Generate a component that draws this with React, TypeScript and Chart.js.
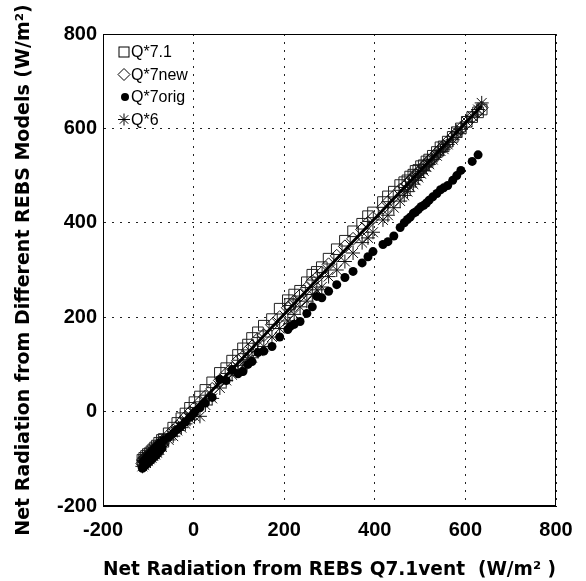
import React, { useEffect, useRef } from "react";
import { Chart, registerables } from "chart.js";

Chart.register(...registerables);

// Shared x values: Net Radiation from REBS Q7.1vent (W/m2)
const X_VENT = [
  -113, -111, -109, -107, -105, -103, -101, -99, -97, -95, -93, -91, -89, -87, -85, -83, -81, -79, -76, -73, -70, -66,
  -55, -45, -36, -27, -18, -8, 2, 14, 26, 41,
  58, 72, 85, 98, 109, 120, 129, 142, 155, 173, 190, 208, 213, 222, 235, 250, 262, 272, 283, 298, 316, 334, 352, 372, 385, 396, 418, 429, 442, 456,
  465, 472, 478, 485, 490, 496, 502, 508, 514, 520, 528, 537, 545, 552, 561, 572, 581, 590, 603, 615, 628, 636,
];

const Q71 = [
  -102, -108, -98, -104, -94, -101, -90, -98, -88, -94, -84, -91, -80, -88, -76, -84, -72, -80, -66, -72, -60, -58,
  -46, -34, -24, -14, -4, 8, 20, 32, 46, 62,
  82, 92, 108, 120, 134, 142, 156, 168, 182, 196, 218, 236, 228, 248, 256, 274, 290, 296, 306, 324, 344, 362, 382, 398, 414, 422, 444, 456, 466, 480,
  486, 490, 498, 502, 510, 512, 520, 522, 530, 534, 542, 550, 560, 562, 572, 582, 592, 600, 614, 624, 634, 640,
];

const Q7NEW = [
  -110, -102, -106, -98, -103, -96, -100, -92, -95, -88, -92, -84, -89, -80, -86, -76, -83, -74, -74, -66, -70, -60,
  -50, -40, -32, -22, -12, -2, 8, 20, 32, 48,
  66, 80, 92, 108, 116, 130, 138, 154, 162, 184, 200, 220, 222, 234, 246, 262, 276, 284, 294, 312, 330, 350, 366, 386, 400, 410, 432, 444, 456, 470,
  476, 482, 490, 494, 502, 506, 512, 520, 524, 532, 538, 548, 556, 562, 572, 582, 590, 600, 612, 624, 636, 644,
];

const Q7ORIG: (number | null)[] = [
  -120, -106, -116, -102, -112, -97, -109, -93, -105, -89, -101, -85, -97, -80, -93, -76, -89, -72, -83, -66, -77, -60,
  -54, -46, -38, -30, -22, -12, -2, 8, 18, 30,
  68, 66, 89, 80, 85, 100, 106, 125, 128, 138, 158, 174, 180, 185, 191, 208, 222, 244, 241, 255, 269, 284, 297, 315, 328, 339, 354, 360, 372, 390,
  400, 407, 412, 420, 423, 428, 434, 437, 442, 448, 455, 462, 470, 474, 479, 490, 500, 511, null, 530, 544, null,
];

const Q6 = [
  -116, -104, -113, -100, -109, -96, -105, -93, -101, -88, -98, -84, -94, -80, -91, -76, -87, -72, -81, -68, -75, -62,
  -60, -52, -40, -34, -26, -16, -10, -10, 14, 28,
  50, 66, 78, 86, 98, 110, 114, 128, 138, 158, 176, 192, 186, 206, 222, 234, 248, 258, 264, 286, 300, 318, 336, 358, 368, 380, 406, 416, 432, 446,
  458, 466, 476, 482, 490, 496, 504, 510, 518, 524, 534, 542, 552, 556, 566, 576, 592, 598, 614, 626, 640, 654,
];

const FIT_X = [-112, 636];
const FIT_Y = [-110, 648];

const AXIS_MIN = -200;
const AXIS_MAX = 800;
const AXIS_STEP = 200;

const LEGEND_LABELS = ["Q*7.1", "Q*7new", "Q*7orig", "Q*6"];
const X_TITLE = "Net Radiation from REBS Q7.1vent  (W/m\u00B2 )";
const Y_TITLE = "Net Radiation from Different REBS Models (W/m\u00B2)";

const FONT = "'Liberation Sans', Arial, Helvetica, sans-serif";
const TITLE_FONT = "'DejaVu Sans', 'Liberation Sans', Arial, sans-serif";

function toPoints(ys: (number | null)[]) {
  const out: { x: number; y: number }[] = [];
  X_VENT.forEach((x, i) => {
    const y = ys[i];
    if (y !== null && y !== undefined) out.push({ x, y });
  });
  return out;
}

function drawStar(ctx: CanvasRenderingContext2D, cx: number, cy: number, r: number) {
  ctx.beginPath();
  for (let k = 0; k < 4; k++) {
    const a = (k * Math.PI) / 4;
    ctx.moveTo(cx - Math.cos(a) * r, cy - Math.sin(a) * r);
    ctx.lineTo(cx + Math.cos(a) * r, cy + Math.sin(a) * r);
  }
  ctx.stroke();
}

const framePlugin = {
  id: "frameAndLegend",
  afterDraw(chart: any) {
    const { ctx, chartArea } = chart;
    const { left, top, right, bottom } = chartArea;
    ctx.save();
    ctx.strokeStyle = "#000";
    ctx.fillStyle = "#000";
    ctx.lineWidth = 1;
    ctx.setLineDash([]);
    ctx.strokeRect(Math.round(left) + 0.5, Math.round(top) + 0.5, Math.round(right - left) - 1, Math.round(bottom - top) - 1);

    const rowH = 22.5;
    LEGEND_LABELS.forEach((label, i) => {
      const cx = left + 21;
      const cy = top + 18 + i * rowH;
      ctx.lineWidth = 1;
      if (i === 0) {
        ctx.strokeRect(cx - 5, cy - 5, 10, 10);
      } else if (i === 1) {
        ctx.beginPath();
        ctx.moveTo(cx - 6, cy);
        ctx.lineTo(cx, cy - 6);
        ctx.lineTo(cx + 6, cy);
        ctx.lineTo(cx, cy + 6);
        ctx.closePath();
        ctx.stroke();
      } else if (i === 2) {
        ctx.beginPath();
        ctx.arc(cx + 1, cy, 4, 0, Math.PI * 2);
        ctx.fill();
      } else {
        drawStar(ctx, cx, cy, 6);
      }
      ctx.font = `16px ${FONT}`;
      ctx.textAlign = "left";
      ctx.textBaseline = "middle";
      ctx.fillText(label, left + 28, cy + 1);
    });
    ctx.restore();
  },
};

export default function App() {
  const ref = useRef<HTMLCanvasElement | null>(null);

  useEffect(() => {
    document.body.style.margin = "0";
    const canvas = ref.current;
    if (!canvas) return;

    const gridCfg = {
      color: "#222",
      lineWidth: 1,
      drawTicks: false,
    };

    const chart = new Chart(canvas, {
      type: "scatter",
      data: {
        datasets: [
          {
            label: "Q*7orig",
            data: toPoints(Q7ORIG),
            pointStyle: "circle",
            pointRadius: 4.5,
            backgroundColor: "#000",
            borderColor: "#000",
            borderWidth: 0,
          },
          {
            label: "fit",
            data: FIT_X.map((x, i) => ({ x, y: FIT_Y[i] })),
            showLine: true,
            borderColor: "#000",
            borderWidth: 3,
            pointRadius: 0,
          },
          {
            label: "Q*6",
            data: toPoints(Q6),
            pointStyle: "star",
            pointRadius: 7,
            backgroundColor: "rgba(0,0,0,0)",
            borderColor: "#111",
            borderWidth: 1,
          },
          {
            label: "Q*7new",
            data: toPoints(Q7NEW),
            pointStyle: "rectRot",
            pointRadius: 6.5,
            backgroundColor: "rgba(0,0,0,0)",
            borderColor: "#111",
            borderWidth: 1,
          },
          {
            label: "Q*7.1",
            data: toPoints(Q71),
            pointStyle: "rect",
            pointRadius: 7.5,
            backgroundColor: "rgba(0,0,0,0)",
            borderColor: "#222",
            borderWidth: 1,
          },
        ],
      },
      options: {
        animation: false,
        responsive: false,
        events: [],
        layout: { padding: { top: 34, right: 30, left: 0, bottom: 0 } },
        plugins: {
          legend: { display: false },
          tooltip: { enabled: false },
        },
        scales: {
          x: {
            type: "linear",
            min: AXIS_MIN,
            max: AXIS_MAX,
            ticks: {
              stepSize: AXIS_STEP,
              color: "#000",
              padding: 12,
              font: { family: FONT, size: 20, weight: "bold" },
            },
            grid: gridCfg,
            border: { display: true, color: "#000", width: 1, dash: [2, 6] },
            title: {
              display: true,
              text: X_TITLE,
              color: "#000",
              font: { family: TITLE_FONT, size: 19, weight: "bold" },
              padding: { top: 0, bottom: 0 },
            },
            afterFit: (scale: any) => {
              scale.height = 75;
            },
          },
          y: {
            type: "linear",
            min: AXIS_MIN,
            max: AXIS_MAX,
            ticks: {
              stepSize: AXIS_STEP,
              color: "#000",
              padding: 6,
              font: { family: FONT, size: 20, weight: "bold" },
            },
            grid: gridCfg,
            border: { display: true, color: "#000", width: 1, dash: [2, 6] },
            title: {
              display: true,
              text: Y_TITLE,
              color: "#000",
              font: { family: TITLE_FONT, size: 19, weight: "bold" },
              padding: { top: 13, bottom: 0 },
            },
            afterFit: (scale: any) => {
              scale.width = 103;
            },
          },
        },
      },
      plugins: [framePlugin],
    } as any);

    return () => chart.destroy();
  }, []);

  return (
    <div style={{ width: 586, height: 581 }}>
      <canvas ref={ref} width={586} height={581} style={{ width: 586, height: 581, display: "block" }} />
    </div>
  );
}
